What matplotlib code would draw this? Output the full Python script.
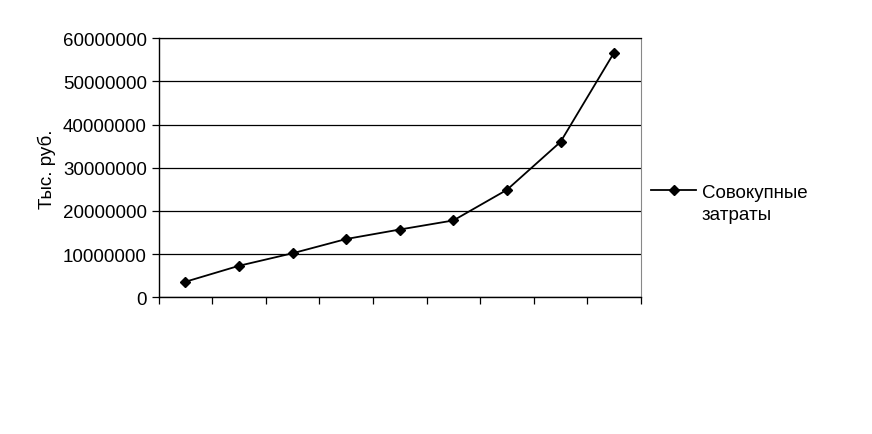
import matplotlib
matplotlib.use('Agg')
import matplotlib.pyplot as plt

plt.rcParams['font.family'] = ['Liberation Sans', 'DejaVu Sans']

# values (тыс. руб.)
periods = [1, 2, 3, 4, 5, 6, 7, 8, 9]
total_costs = [3600000, 7300000, 10200000, 13500000, 15700000,
               17800000, 24900000, 36000000, 56700000]
y_ticks = [0, 10000000, 20000000, 30000000, 40000000, 50000000, 60000000]


def plot_total_costs(x, y):
    fig = plt.figure(figsize=(8.72, 4.35), dpi=100)
    ax = fig.add_axes([0.182, 0.3143, 0.553, 0.5954])
    idx = list(range(len(x)))
    line, = ax.plot(idx, y, color='black', linewidth=1.3,
                    marker='D', markersize=5, label='Совокупные')

    ax.set_xlim(-0.5, len(x) - 0.5)
    ax.set_ylim(0, 60000000)
    ax.set_yticks(y_ticks)
    ax.set_yticklabels([str(v) for v in y_ticks], fontsize=13.5)
    ax.set_xticks([i - 0.5 for i in range(len(x) + 1)])
    ax.set_xticklabels([])
    ax.tick_params(axis='both', direction='out', length=5, width=0.9)
    ax.yaxis.grid(True, color='black', linewidth=0.9)
    ax.set_axisbelow(True)

    ax.spines['left'].set_linewidth(1.0)
    ax.spines['bottom'].set_linewidth(1.0)
    ax.spines['right'].set_color('#888888')
    ax.spines['right'].set_linewidth(0.8)
    ax.spines['top'].set_linewidth(0.9)

    ax.set_ylabel('Тыс. руб.', fontsize=13.5, labelpad=5)

    # legend: marker sits on the first line of the two-line label
    fig.legend(handles=[line], loc='center left', bbox_to_anchor=(0.7385, 0.5563),
               frameon=False, fontsize=13.5, handlelength=2.4, handletextpad=0.3,
               borderaxespad=0)
    fig.text(0.805, 0.504, 'затраты', fontsize=13.5, va='center', ha='left')
    fig.savefig('out.png', dpi=100, facecolor='white')


plot_total_costs(periods, total_costs)
